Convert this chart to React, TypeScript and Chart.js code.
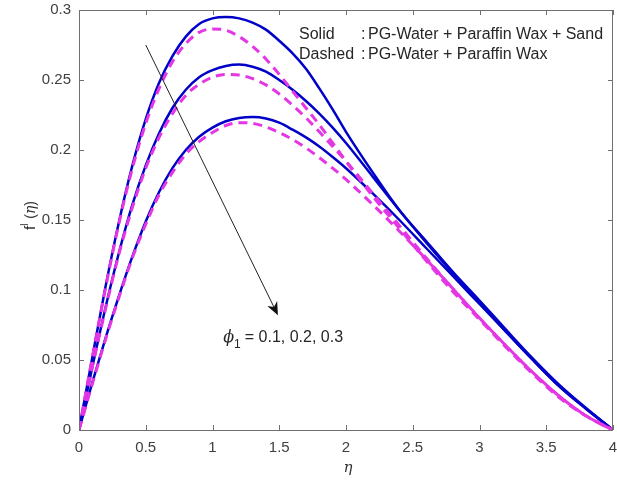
import React, { useEffect, useRef } from "react";
import { Chart, registerables } from "chart.js";

Chart.register(...registerables);

const eta = [
  0, 0.1, 0.2, 0.3, 0.4, 0.5, 0.6, 0.7, 0.8, 0.9, 1.0, 1.1, 1.2, 1.3, 1.4, 1.5, 1.6, 1.7, 1.8, 1.9, 2.0,
  2.2, 2.4, 2.6, 2.8, 3.0, 3.2, 3.4, 3.6, 3.8, 4.0,
];

// Solid: PG-Water + Paraffin Wax + Sand (phi1 = 0.1, 0.2, 0.3)
const solid1 = [
  0, 0.052, 0.103, 0.149, 0.189, 0.222, 0.248, 0.267, 0.281, 0.29, 0.294, 0.295, 0.294, 0.291, 0.286, 0.278,
  0.269, 0.258, 0.244, 0.229, 0.213, 0.184, 0.157, 0.135, 0.113, 0.0925, 0.0715, 0.051, 0.032, 0.0155, 0,
];
const solid2 = [
  0, 0.045, 0.088, 0.127, 0.161, 0.189, 0.212, 0.23, 0.243, 0.252, 0.257, 0.26, 0.261, 0.2595, 0.256, 0.25,
  0.243, 0.235, 0.226, 0.216, 0.205, 0.181, 0.157, 0.134, 0.112, 0.091, 0.07, 0.05, 0.031, 0.015, 0,
];
const solid3 = [
  0, 0.034, 0.066, 0.096, 0.124, 0.149, 0.17, 0.187, 0.2, 0.2095, 0.216, 0.2205, 0.2228, 0.2235, 0.2225,
  0.2195, 0.2145, 0.209, 0.2025, 0.195, 0.187, 0.169, 0.15, 0.13, 0.11, 0.09, 0.07, 0.05, 0.031, 0.015, 0,
];

// Dashed: PG-Water + Paraffin Wax
const dashed1 = [
  0, 0.052, 0.102, 0.148, 0.187, 0.219, 0.244, 0.263, 0.276, 0.284, 0.2865, 0.2855, 0.281, 0.274, 0.265, 0.254,
  0.242, 0.23, 0.218, 0.205, 0.192, 0.167, 0.144, 0.121, 0.099, 0.079, 0.059, 0.04, 0.023, 0.01, 0,
];
const dashed2 = [
  0, 0.045, 0.087, 0.126, 0.159, 0.187, 0.209, 0.226, 0.239, 0.247, 0.252, 0.254, 0.2535, 0.251, 0.2465, 0.24,
  0.232, 0.223, 0.213, 0.2025, 0.192, 0.169, 0.146, 0.123, 0.101, 0.08, 0.06, 0.041, 0.024, 0.01, 0,
];
const dashed3 = [
  0, 0.033, 0.065, 0.095, 0.123, 0.147, 0.168, 0.184, 0.197, 0.206, 0.2125, 0.2175, 0.2195, 0.219, 0.2165,
  0.2125, 0.2075, 0.2015, 0.1945, 0.187, 0.179, 0.161, 0.142, 0.122, 0.101, 0.08, 0.06, 0.041, 0.024, 0.01, 0,
];

const xTicks = ["0", "0.5", "1", "1.5", "2", "2.5", "3", "3.5", "4"];
const yTicks = ["0", "0.05", "0.1", "0.15", "0.2", "0.25", "0.3"];
const legendLines = [
  ["Solid", "PG-Water + Paraffin Wax + Sand"],
  ["Dashed", "PG-Water + Paraffin Wax"],
];
const phiText = "= 0.1, 0.2, 0.3";
const arrowFrom = [0.5, 0.275];
const arrowTo = [1.49, 0.082];
const phiAt = [1.08, 0.066];

const SOLID = "#0000c8";
const DASH = "#e436e4";
const FONT = "'Liberation Sans', Arial, sans-serif";

const toPts = (ys: number[]) => ys.map((v, i) => ({ x: eta[i], y: v }));

const decor = {
  id: "decor",
  afterDraw(chart: any) {
    const { ctx, chartArea, scales } = chart;
    const { left, right, top, bottom } = chartArea;
    const x = scales.x;
    const y = scales.y;
    ctx.save();
    // box
    ctx.strokeStyle = "#707070";
    ctx.lineWidth = 1;
    ctx.beginPath();
    ctx.rect(Math.round(left) + 0.5, Math.round(top) + 0.5, Math.round(right - left) - 1, Math.round(bottom - top));
    ctx.stroke();
    // inward ticks
    ctx.beginPath();
    x.ticks.forEach((t: any) => {
      const px = Math.round(x.getPixelForValue(t.value)) + 0.5;
      ctx.moveTo(px, bottom);
      ctx.lineTo(px, bottom - 5);
      ctx.moveTo(px, top);
      ctx.lineTo(px, top + 5);
    });
    y.ticks.forEach((t: any) => {
      const py = Math.round(y.getPixelForValue(t.value)) + 0.5;
      ctx.moveTo(left, py);
      ctx.lineTo(left + 5, py);
      ctx.moveTo(right, py);
      ctx.lineTo(right - 5, py);
    });
    ctx.stroke();

    // arrow
    const ax0 = x.getPixelForValue(arrowFrom[0]);
    const ay0 = y.getPixelForValue(arrowFrom[1]);
    const ax1 = x.getPixelForValue(arrowTo[0]);
    const ay1 = y.getPixelForValue(arrowTo[1]);
    const ang = Math.atan2(ay1 - ay0, ax1 - ax0);
    const hl = 13;
    const hw = 5.5;
    const bx = ax1 - hl * Math.cos(ang);
    const by = ay1 - hl * Math.sin(ang);
    ctx.strokeStyle = "#222";
    ctx.lineWidth = 1;
    ctx.beginPath();
    ctx.moveTo(ax0, ay0);
    ctx.lineTo(bx + 4 * Math.cos(ang), by + 4 * Math.sin(ang));
    ctx.stroke();
    ctx.fillStyle = "#111";
    ctx.beginPath();
    ctx.moveTo(ax1, ay1);
    ctx.lineTo(bx + hw * Math.sin(ang), by - hw * Math.cos(ang));
    ctx.lineTo(bx + 4 * Math.cos(ang), by + 4 * Math.sin(ang));
    ctx.lineTo(bx - hw * Math.sin(ang), by + hw * Math.cos(ang));
    ctx.closePath();
    ctx.fill();

    // phi label
    const px0 = x.getPixelForValue(phiAt[0]);
    const py0 = y.getPixelForValue(phiAt[1]);
    ctx.fillStyle = "#262626";
    ctx.textBaseline = "middle";
    ctx.textAlign = "left";
    ctx.font = "italic 16px 'DejaVu Serif', serif";
    ctx.fillText("\u03d5", px0, py0);
    let w = ctx.measureText("\u03d5").width;
    ctx.font = `12px ${FONT}`;
    ctx.fillText("1", px0 + w, py0 + 7);
    w += ctx.measureText("1").width + 4;
    ctx.font = `16px ${FONT}`;
    ctx.fillText(phiText, px0 + w, py0);

    // legend text
    ctx.font = `16px ${FONT}`;
    ctx.fillStyle = "#262626";
    legendLines.forEach((ln, i) => {
      const ly = 35 + i * 20;
      ctx.fillText(ln[0], 299, ly);
      ctx.fillText(":", 361, ly);
      ctx.fillText(ln[1], 368, ly);
    });

    // y-axis title
    ctx.save();
    ctx.translate(30, 216);
    ctx.rotate(-Math.PI / 2);
    ctx.textBaseline = "alphabetic";
    const parts = [
      { t: "f", f: `15px ${FONT}`, dy: 0 },
      { t: "l", f: `10px ${FONT}`, dy: -7 },
      { t: " (", f: `14px ${FONT}`, dy: 0 },
      { t: "\u03b7", f: `italic 14px 'DejaVu Serif', serif`, dy: 0 },
      { t: ")", f: `14px ${FONT}`, dy: 0 },
    ];
    let tw = 0;
    parts.forEach((p) => {
      ctx.font = p.f;
      tw += ctx.measureText(p.t).width;
    });
    let cxp = -tw / 2;
    ctx.fillStyle = "#333";
    parts.forEach((p) => {
      ctx.font = p.f;
      ctx.fillText(p.t, cxp, 5 + p.dy);
      cxp += ctx.measureText(p.t).width + (p.t === "l" ? 1 : 0);
    });
    ctx.restore();

    // x-axis title
    ctx.font = "italic 15px 'DejaVu Serif', serif";
    ctx.textAlign = "center";
    ctx.textBaseline = "middle";
    ctx.fillStyle = "#333";
    ctx.fillText("\u03b7", x.getPixelForValue(2) + 2, 468);
    ctx.restore();
  },
};

export default function App() {
  const ref = useRef<HTMLCanvasElement | null>(null);
  useEffect(() => {
    if (!ref.current) return;
    const common = { pointRadius: 0, fill: false, cubicInterpolationMode: "monotone" as const };
    const chart = new Chart(ref.current, {
      type: "line",
      data: {
        datasets: [
          { ...common, data: toPts(dashed1), borderColor: DASH, borderWidth: 3, borderDash: [9, 6], order: 0 },
          { ...common, data: toPts(dashed2), borderColor: DASH, borderWidth: 3, borderDash: [9, 6], order: 0 },
          { ...common, data: toPts(dashed3), borderColor: DASH, borderWidth: 3, borderDash: [9, 6], order: 0 },
          { ...common, data: toPts(solid1), borderColor: SOLID, borderWidth: 2.5, order: 1 },
          { ...common, data: toPts(solid2), borderColor: SOLID, borderWidth: 2.5, order: 1 },
          { ...common, data: toPts(solid3), borderColor: SOLID, borderWidth: 2.5, order: 1 },
        ],
      },
      options: {
        responsive: false,
        animation: false,
        layout: { padding: { left: 0, right: 4, top: 10, bottom: 0 } },
        plugins: { legend: { display: false }, tooltip: { enabled: false } },
        scales: {
          x: {
            type: "linear",
            min: 0,
            max: 4,
            grid: { display: false, drawTicks: false },
            border: { display: false },
            ticks: {
              stepSize: 0.5,
              padding: 9,
              color: "#404040",
              font: { family: FONT, size: 15 },
              callback: (_v: any, i: number) => xTicks[i],
            },
            afterFit: (s: any) => {
              s.height = 57;
              s.paddingLeft = 0;
              s.paddingRight = 0;
            },
          },
          y: {
            type: "linear",
            min: 0,
            max: 0.3,
            grid: { display: false, drawTicks: false },
            border: { display: false },
            ticks: {
              stepSize: 0.05,
              padding: 8,
              color: "#404040",
              font: { family: FONT, size: 15 },
              callback: (_v: any, i: number) => yTicks[i],
            },
            afterFit: (s: any) => {
              s.width = 79;
              s.paddingTop = 0;
              s.paddingBottom = 0;
            },
          },
        },
      },
      plugins: [decor],
    });
    return () => chart.destroy();
  }, []);
  return (
    <div style={{ position: "absolute", left: 0, top: 0, width: 617, height: 487, background: "#fff" }}>
      <canvas ref={ref} width={617} height={487} style={{ display: "block" }} />
    </div>
  );
}
